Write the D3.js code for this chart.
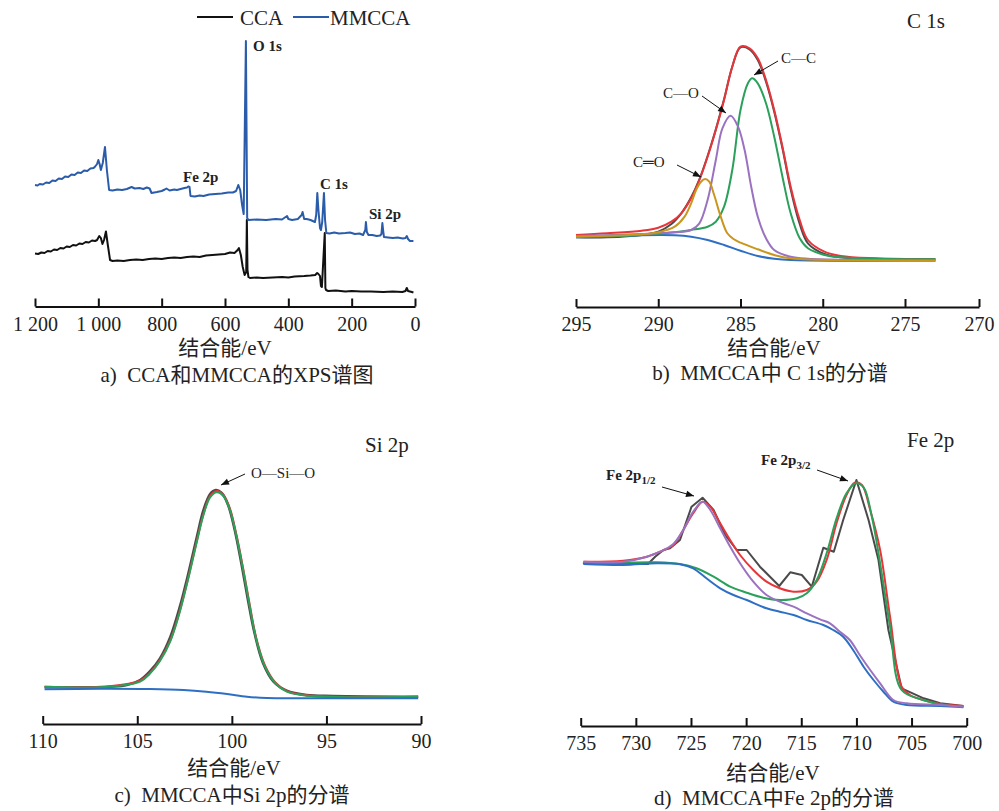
<!DOCTYPE html>
<html>
<head>
<meta charset="utf-8">
<script src="https://cdn.jsdelivr.net/npm/d3@7"></script>
<style>
  body { margin: 0; background: #fff; }
</style>
</head>
<body>
<script>
// ---- a) survey spectra: [binding energy eV, intensity a.u.]
const ccaSurvey = [[1200,46.5],[1190,46],[1180,47.5],[1170,47],[1160,49],[1150,48.5],[1140,50.5],[1130,50],[1120,52],[1110,51.5],[1100,53.5],[1090,53],[1080,55],[1070,54.5],[1060,56.5],[1050,56],[1040,58],[1030,57.5],[1020,59.5],[1010,59],[1004,60],[997,64],[992,62],[987,56],[982,60],[976,68.5],[970,55],[963,40],[955,39],[940,39.5],[920,39],[900,40],[880,40.5],[860,40],[840,41],[820,41.5],[800,41],[780,42],[760,42.5],[740,42],[720,43],[700,43.5],[680,43],[660,44.5],[640,45],[620,45.5],[600,46],[584,47.5],[570,47],[560,50],[556,52],[550,45],[544,33],[538,25],[533,28],[531,80],[529,30],[526,23],[521,22],[500,22.5],[480,22],[450,22.5],[420,23],[400,22.5],[380,23.5],[350,24],[330,24.5],[315,25],[309,27],[305,26],[300,24],[297,14],[294,13],[285,67],[283,12],[281,10],[274,9],[250,9.5],[220,8.5],[200,9],[170,8.5],[140,8.5],[100,8],[70,8.5],[40,8],[30,9],[26,12],[22,9],[10,8],[5,7.5]];
const mmccaSurvey = [[1200,115],[1192,114.5],[1185,116],[1175,115.5],[1165,117.5],[1155,117],[1145,119.5],[1135,119],[1125,121.5],[1115,121],[1105,123.5],[1095,123],[1085,125.5],[1075,125],[1065,127.5],[1055,127],[1045,129.5],[1035,129],[1025,131.5],[1015,132],[1010,133.5],[1004,136],[1000,140],[996,136],[992,130],[986,137],[979,153],[973,130],[966,110],[955,109.5],[940,110.5],[925,110],[910,111],[895,113],[885,111.5],[870,112],[858,111],[847,112.5],[838,111.5],[832,107],[815,108],[800,109],[790,110.5],[785,111.5],[775,109.5],[760,110.5],[752,110],[740,111],[728,112],[720,112.5],[716,113.5],[712,113],[709,104],[695,103.5],[680,104.5],[668,104],[650,105.5],[630,106],[610,106.5],[590,107.5],[575,107.5],[565,109],[558,115],[552,110],[546,95],[541,86],[534,259],[530,82],[526,80],[500,80.5],[470,80],[440,81],[420,80.5],[404,84],[400,81],[388,80],[370,81],[358,85],[355,88],[350,81],[342,81],[330,80],[316,78],[312,85],[308.5,107],[305,90],[300,72],[297,70],[293,78],[287.5,107],[284,80],[280,67],[270,66.5],[255,67.5],[240,66.5],[220,67],[205,67.5],[190,66],[175,66.5],[164,65],[157,70],[155,78],[152,68],[147,65],[135,65],[121,64],[110,64.5],[106,66],[103,77],[100,68],[98,63],[85,62.5],[70,62],[55,62.5],[47,62],[38,61.5],[30,62],[26,64],[22,61],[16,59],[5,59]];
const surveyTicks = [1200, 1000, 800, 600, 400, 200, 0];

// ---- b) C 1s
const c1sRaw = [[295,24.7],[293.1,24.7],[291,27],[290,30.3],[289.2,38],[288.6,48.7],[288,64.7],[287.5,82.7],[287,106],[286.5,132.7],[286,162.7],[285.5,195.3],[285,214.7],[284.45,212.7],[283.95,202],[283.45,180.3],[282.95,150.3],[282.45,113.7],[281.95,72.7],[281.4,38],[280.9,18.7],[279.9,8],[278.9,4.7],[276.85,3.3],[272.95,2.7]];
const c1sEnvelope = [[295,27],[293.1,28.7],[291,31.3],[290,34.3],[289.2,40.3],[288.6,48.7],[288,63.7],[287.5,82],[287,105.3],[286.5,132],[286,162],[285.5,195.3],[285,215.3],[284.45,213.7],[283.95,203.7],[283.45,182],[282.95,152],[282.45,115.3],[281.95,75.3],[281.4,42],[280.9,22],[279.9,10.3],[278.9,6],[276.85,3.7],[272.95,2.7]];
const c1sCC = [[295,25.3],[291,27],[289,29.7],[288,32],[287,35.3],[286.5,40.3],[286,55.3],[285.5,92],[285,152],[284.55,178.7],[284.3,183.7],[283.95,178.7],[283.45,158.7],[282.95,125.3],[282.45,85.3],[281.95,48.7],[281.4,23.7],[280.9,13.7],[279.9,7],[278.9,4.7],[276.85,3.3],[272.95,2.7]];
const c1sCO = [[295,26],[291,28],[289,29.7],[288,32],[287.5,38.7],[287,62],[286.5,102],[286.1,133.7],[285.6,146.3],[285.15,135.3],[284.75,112],[284.35,75.3],[283.95,45.3],[283.45,23.7],[282.95,12],[281.95,5.3],[280.9,3.3],[272.95,2]];
const c1sCdO = [[295,25.3],[291,27.7],[290,29.7],[289,35.3],[288.4,45.3],[288,58.7],[287.7,72],[287.4,80.3],[287.15,83],[286.9,80.3],[286.6,67],[286.2,45.3],[285.8,28.7],[285.4,22.7],[285,19.3],[283.95,12.7],[282.95,7],[281.95,3.7],[272.95,1]];
const c1sBackground = [[295,24.7],[293.1,25.3],[291,26.7],[289,26.7],[288,25.3],[287,22],[286,17],[285,11.3],[283.95,6],[282.95,3.3],[281.95,2],[272.95,1]];
const c1sTicks = [295, 290, 285, 280, 275, 270];

// ---- c) Si 2p
const si2pRaw = [[109.9,12.7],[107.85,12.7],[106.45,13.3],[105.55,15],[104.85,20],[104.35,28.3],[103.8,41.7],[103.25,63.3],[102.75,93.3],[102.3,126.7],[101.85,163.3],[101.5,190],[101.15,206],[100.85,210],[100.55,207.3],[100.2,195],[99.85,170],[99.5,136.7],[99.15,100],[98.8,66.7],[98.35,36.7],[97.8,18.3],[97.1,9.3],[96.05,5],[94.65,4],[90.15,3.3]];
const si2pEnvelope = [[109.9,13.3],[106.45,13.7],[104.85,19.3],[104.35,26.7],[103.8,40],[103.25,60],[102.75,89.3],[102.3,122.7],[101.85,159.3],[101.5,186],[101.15,204],[100.8,209],[100.45,205.3],[100.1,191.3],[99.75,164.7],[99.4,131.3],[99.05,94.7],[98.7,61.3],[98.25,34.7],[97.7,17.7],[97.1,9],[96.05,4.7],[90.15,3.3]];
const si2pOSiO = [[109.9,13.3],[106.45,13.3],[104.85,18.3],[104.35,26],[103.8,39],[103.25,59],[102.75,88.3],[102.3,121.7],[101.85,158.3],[101.5,185],[101.15,202.7],[100.8,207.7],[100.45,204],[100.1,190],[99.75,163.3],[99.4,130],[99.05,93.3],[98.7,60],[98.25,33.3],[97.7,16.7],[97.1,8.3],[96.05,4.3],[90.15,3.3]];
const si2pBackground = [[109.9,10.7],[106.95,11.3],[104.35,11],[102.55,10],[101.35,8.3],[100.25,6],[99.2,3.3],[98.15,2],[96.4,1.7],[90.15,1.7]];
const si2pTicks = [110, 105, 100, 95, 90];

// ---- d) Fe 2p
const fe2pRaw = [[734.8,146.7],[731.1,146],[728.9,146],[728.25,153.3],[727.5,160],[726.9,161.7],[726,170],[724.95,203.3],[723.95,212.3],[722.95,200],[721.9,175],[720.85,160],[719.95,160],[718.75,143.3],[717,124],[716,137.7],[714.95,135],[714.05,123.3],[713,162.3],[712.05,158.3],[711.2,190],[710,230],[708.9,190],[708,150],[707.1,80],[705.9,21.7],[703.9,11.7],[702.4,6.7],[700.3,4]];
const fe2pEnvelope = [[734.75,148.3],[731.15,149.3],[729,153.3],[727.8,158.3],[726.6,165],[725.7,180],[724.8,196.7],[723.95,208.3],[723.25,203.3],[722.35,186.7],[721.45,170],[720.55,155],[719.35,140],[718.15,128.3],[716.95,121.7],[715.7,118.3],[714.5,120],[713.6,128.3],[712.7,150],[711.8,186.7],[710.9,215],[710.15,227.3],[709.5,225],[708.75,200],[707.85,160],[706.95,93.3],[705.9,23.3],[705.15,15],[703.95,10],[702.4,6],[700.3,4]];
const fe2p32 = [[734.75,146.7],[731.15,147.3],[728.1,147.7],[726,146],[724.5,141.7],[722.95,133.3],[721.45,123.3],[719.95,117.3],[718.45,112.3],[716.95,110],[715.4,111.7],[714.5,116.7],[713.6,130],[712.7,156.7],[711.8,191.7],[710.9,216.7],[710.05,226.7],[709.35,222.7],[708.6,193.3],[707.85,146.7],[706.95,83.3],[705.9,20],[703.95,10],[702.1,5],[700.3,3.3]];
const fe2p12 = [[734.75,148.3],[731.15,148.3],[729,153.3],[727.8,158.3],[726.6,166],[725.7,180],[724.8,198.3],[723.95,208.3],[723.25,200],[722.35,181.7],[721.45,163.3],[720.55,146.7],[719.35,128.3],[718.15,115],[716.95,108.3],[715.7,103.3],[714.5,96.7],[713.3,90.7],[712.4,86.7],[711.5,78.3],[710.6,70],[709.7,55],[708.75,40],[707.85,26.7],[706.65,10],[705.45,6.7],[702.4,5],[700.3,3.3]];
const fe2pBackground = [[734.75,146],[731.15,145],[728.1,146.7],[726,145.7],[724.8,141.7],[723.6,131.7],[722.35,121.7],[721.15,115],[719.95,110],[718.15,101.7],[716.95,98.3],[715.7,95],[714.5,90],[713,85],[712.1,80],[711.2,73.3],[710.3,60],[709.35,43.3],[708.45,30],[707.55,18.3],[706.65,8.3],[705.45,5],[702.4,4],[700.3,2.7]];
const fe2pTicks = [735, 730, 725, 720, 715, 710, 705, 700];

const serif = '"Liberation Serif", "Times New Roman", "Noto Sans CJK SC", serif';
const colors = { raw: '#4a4a4a', env: '#e8353a', green: '#2aa05a', purple: '#9a72c0', gold: '#c9961e', bg: '#2e6fc4' };

const svg = d3.select('body').append('svg')
  .attr('width', 999)
  .attr('height', 811);

svg.append('defs').append('marker')
  .attr('id', 'arrow')
  .attr('viewBox', '0 -5 10 10')
  .attr('refX', 10)
  .attr('refY', 0)
  .attr('markerUnits', 'userSpaceOnUse')
  .attr('markerWidth', 10)
  .attr('markerHeight', 8)
  .attr('orient', 'auto')
  .append('path')
  .attr('fill', '#111')
  .attr('d', 'M0,-4L10,0L0,4Z');

function drawAxis(x, y0, major, minor, fmt) {
  const g = svg.append('g').attr('transform', `translate(0,${y0})`);
  g.call(d3.axisBottom(x).tickValues(minor).tickSize(-4).tickSizeOuter(0).tickFormat(''));
  g.call(d3.axisBottom(x).tickValues(major).tickSize(-8).tickSizeOuter(0).tickPadding(10).tickFormat(fmt || (d => d)));
  g.selectAll('path.domain').attr('stroke', '#111').attr('stroke-width', 2);
  g.selectAll('.tick line').attr('stroke', '#111').attr('stroke-width', 2);
  g.selectAll('.tick text')
    .style('font-family', serif)
    .style('font-size', '20px')
    .attr('fill', '#222');
  return g;
}

function drawLine(data, x, y, color, curve, width) {
  svg.append('path')
    .datum(data)
    .attr('fill', 'none')
    .attr('stroke', color)
    .attr('stroke-width', width || 2)
    .attr('stroke-linejoin', 'round')
    .attr('d', d3.line().x(d => x(d[0])).y(d => y(d[1])).curve(curve || d3.curveLinear));
}

function label(txt, px, py, size, opts = {}) {
  return svg.append('text')
    .attr('x', px)
    .attr('y', py)
    .attr('text-anchor', opts.anchor || 'start')
    .attr('fill', '#222')
    .style('font-family', serif)
    .style('font-size', size + 'px')
    .style('font-weight', opts.bold ? 'bold' : 'normal')
    .style('white-space', 'pre')
    .text(txt);
}

function arrow(x1, y1, x2, y2) {
  svg.append('line')
    .attr('x1', x1).attr('y1', y1).attr('x2', x2).attr('y2', y2)
    .attr('stroke', '#111')
    .attr('stroke-width', 1)
    .attr('marker-end', 'url(#arrow)');
}

function titles(cx1, y1, cx2, y2, caption) {
  label('结合能/eV', cx1, y1, 21, { anchor: 'middle' });
  label(caption, cx2, y2, 21, { anchor: 'middle' });
}

// ===== a) survey
const xA = d3.scaleLinear().domain([1200, 0]).range([35, 415]);
const yA = d3.scaleLinear().domain([0, 300]).range([300, 0]);
drawAxis(xA, 306.5, surveyTicks, d3.range(1100, 0, -200),
  d => d >= 1000 ? d3.format(',')(d).replace(',', ' ') : d);
drawLine(ccaSurvey, xA, yA, '#111', d3.curveLinear, 2);
drawLine(mmccaSurvey, xA, yA, '#2a5caa', d3.curveLinear, 2);

label('O 1s', 253, 51, 15, { bold: true });
label('Fe 2p', 183, 182, 15, { bold: true });
label('C 1s', 320, 189, 15, { bold: true });
label('Si 2p', 369, 219, 15, { bold: true });

svg.append('line').attr('x1', 197).attr('x2', 233).attr('y1', 17).attr('y2', 17)
  .attr('stroke', '#111').attr('stroke-width', 2);
label('CCA', 240, 25, 21);
svg.append('line').attr('x1', 293).attr('x2', 329).attr('y1', 17).attr('y2', 17)
  .attr('stroke', '#2a5caa').attr('stroke-width', 2);
label('MMCCA', 330, 25, 21);

titles(225, 355, 237, 382, 'a)  CCA和MMCCA的XPS谱图');

// ===== b) C 1s
const xB = d3.scaleLinear().domain([295, 275, 270]).range([576, 905, 979]);
const yB = d3.scaleLinear().domain([0, 220]).range([262, 42]);
drawAxis(xB, 307, c1sTicks, [292.5, 287.5, 282.5, 277.5, 272.5]);
drawLine(c1sRaw, xB, yB, colors.raw, d3.curveCatmullRom);
drawLine(c1sEnvelope, xB, yB, colors.env, d3.curveCatmullRom);
drawLine(c1sBackground, xB, yB, colors.bg, d3.curveCatmullRom);
drawLine(c1sCC, xB, yB, colors.green, d3.curveCatmullRom);
drawLine(c1sCO, xB, yB, colors.purple, d3.curveCatmullRom);
drawLine(c1sCdO, xB, yB, colors.gold, d3.curveCatmullRom);

label('C 1s', 907, 28, 21);
label('C—C', 781, 63, 15);
arrow(778, 61, 754, 75);
label('C—O', 663, 98, 15);
arrow(702, 96, 726, 113);
label('C═O', 633, 167, 15);
arrow(677, 165, 701, 177);

titles(774, 355, 770, 380, 'b)  MMCCA中 C 1s的分谱');

// ===== c) Si 2p
const xC = d3.scaleLinear().domain([110, 90]).range([42.7, 421]);
const yC = d3.scaleLinear().domain([0, 220]).range([700, 480]);
drawAxis(xC, 724, si2pTicks, [107.5, 102.5, 97.5, 92.5]);
drawLine(si2pRaw, xC, yC, colors.raw, d3.curveCatmullRom, 2.5);
drawLine(si2pEnvelope, xC, yC, colors.env, d3.curveCatmullRom);
drawLine(si2pOSiO, xC, yC, colors.green, d3.curveCatmullRom);
drawLine(si2pBackground, xC, yC, colors.bg, d3.curveCatmullRom);

label('Si 2p', 365, 452, 21);
label('O—Si—O', 251, 478, 15);
arrow(245, 474, 221, 485);

titles(234, 775, 232, 802, 'c)  MMCCA中Si 2p的分谱');

// ===== d) Fe 2p
const xD = d3.scaleLinear().domain([735, 700]).range([580.7, 966.7]);
const yD = d3.scaleLinear().domain([0, 240]).range([710, 470]);
drawAxis(xD, 726, fe2pTicks, d3.range(732.5, 700, -5));
drawLine(fe2pRaw, xD, yD, colors.raw, d3.curveLinear, 2);
drawLine(fe2pEnvelope, xD, yD, colors.env, d3.curveCatmullRom);
drawLine(fe2p32, xD, yD, colors.green, d3.curveCatmullRom);
drawLine(fe2pBackground, xD, yD, colors.bg, d3.curveCatmullRom);
drawLine(fe2p12, xD, yD, colors.purple, d3.curveCatmullRom);

label('Fe 2p', 907, 447, 21);
const t32 = label('Fe 2p', 761, 465, 15, { bold: true });
t32.append('tspan').attr('dy', 4).style('font-size', '11px').text('3/2');
arrow(817, 470, 848, 481);
const t12 = label('Fe 2p', 606, 480, 15, { bold: true });
t12.append('tspan').attr('dy', 4).style('font-size', '11px').text('1/2');
arrow(662, 487, 694, 496);

titles(773, 780, 774, 805, 'd)  MMCCA中Fe 2p的分谱');
</script>
</body>
</html>
